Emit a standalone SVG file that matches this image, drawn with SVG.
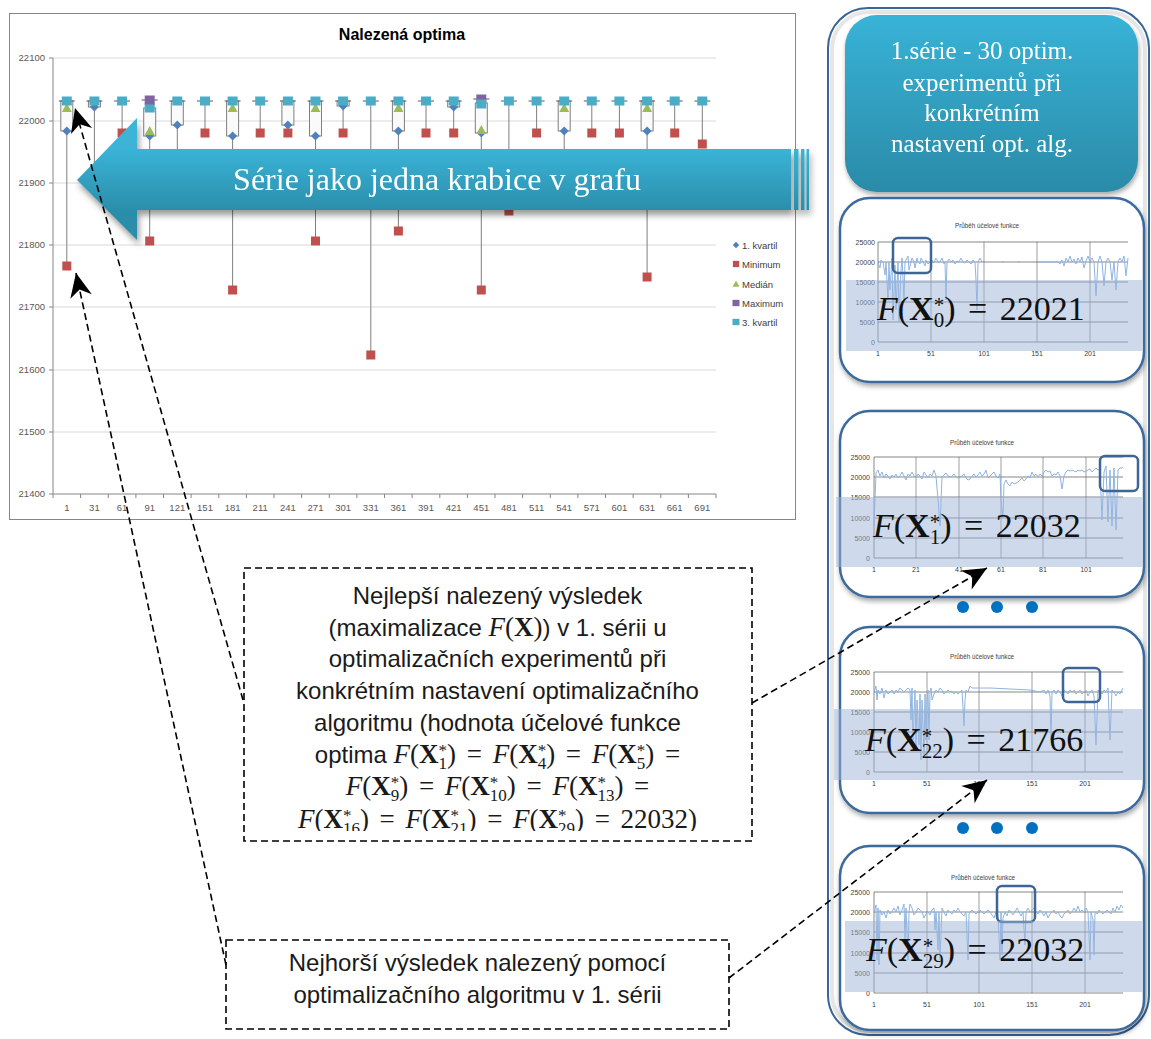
<svg xmlns="http://www.w3.org/2000/svg" width="1151" height="1039" viewBox="0 0 1151 1039">
<defs>
<style>
.ax{font-family:"Liberation Sans",Arial,sans-serif;font-size:9.5px;fill:#595959}
.lg{font-family:"Liberation Sans",Arial,sans-serif;font-size:9.5px;fill:#404040}
.grid{stroke:#D9D9D9;stroke-width:1}
.axl{stroke:#868686;stroke-width:1}
.wh{stroke:#7F7F7F;stroke-width:1}
.bx{fill:#FAFAFA;stroke:#7F7F7F;stroke-width:1}
.cap{stroke:#595959;stroke-width:1}
.mt{font-family:"Liberation Sans",Arial,sans-serif;font-size:6.3px;fill:#404040;text-anchor:middle}
.ml{font-family:"Liberation Sans",Arial,sans-serif;font-size:7px;fill:#404040}
.mg{stroke:#555;stroke-width:0.7}
.mv{stroke:#777;stroke-width:0.7}
.ln{fill:none;stroke:#8DB4E2;stroke-width:1}
.band{fill:#9DB5D9;opacity:0.5}
.hl{fill:none;stroke:#3D6595;stroke-width:2.5}
.fm{font-family:"Liberation Serif","Times New Roman",serif;font-size:34px;fill:#111}
.tx{font-family:"Liberation Sans",Arial,sans-serif;font-size:24px;fill:#1a1a1a;text-anchor:middle}
.m{font-family:"Liberation Serif","Times New Roman",serif;font-size:27px}
.mi{font-style:italic}
.mb{font-weight:bold}
.ms{font-size:17px}
.con{stroke:#000;stroke-width:1.6;stroke-dasharray:7 4;fill:none;marker-end:url(#ah)}
.dbox{fill:#fff;stroke:#000;stroke-width:1.6;stroke-dasharray:7 4}
.panel{fill:#fff;stroke:#3C6A9C;stroke-width:2.5}
.dot{fill:#0070C0}
.wt{font-family:"Liberation Serif","Times New Roman",serif;fill:#fff;text-anchor:middle}
</style>
<linearGradient id="gArrow" gradientUnits="userSpaceOnUse" x1="0" y1="149" x2="0" y2="210"><stop offset="0" stop-color="#3AB4D7"/><stop offset="1" stop-color="#2B8EAB"/></linearGradient>
<linearGradient id="gTop" gradientUnits="userSpaceOnUse" x1="0" y1="15" x2="0" y2="192"><stop offset="0" stop-color="#38B3D7"/><stop offset="1" stop-color="#2A8BA8"/></linearGradient>
<filter id="sh" x="-10%" y="-10%" width="125%" height="135%"><feDropShadow dx="1" dy="3" stdDeviation="2.5" flood-color="#000" flood-opacity="0.35"/></filter>
<filter id="sh2" x="-10%" y="-20%" width="125%" height="160%"><feDropShadow dx="2" dy="5" stdDeviation="3" flood-color="#000" flood-opacity="0.4"/></filter>
<marker id="ah" viewBox="-26 -13 28 26" markerWidth="28" markerHeight="26" refX="0" refY="0" orient="auto" markerUnits="userSpaceOnUse"><path d="M0,0 L-24,-11 L-17,0 L-24,11 Z" fill="#000"/></marker>
<rect id="q3" x="-5" y="-4.5" width="10" height="9" fill="#4BACC6"/>
<rect id="mn" x="-4.5" y="-4.5" width="9" height="9" fill="#C0504D"/>
<path id="q1" d="M0,-4.5 L4.5,0 L0,4.5 L-4.5,0Z" fill="#4F81BD"/>
<path id="md" d="M0,-5 L5,4 L-5,4Z" fill="#9BBB59"/>
<rect id="mx" x="-5" y="-4.5" width="10" height="9" fill="#8064A2"/>
<clipPath id="clipB1"><rect x="244" y="568" width="508" height="263"/></clipPath>
</defs>

<rect x="0" y="0" width="1151" height="1039" fill="#fff"/>

<g id="chart-nalezena-optima">
<rect x="9.5" y="13.5" width="786" height="506" fill="#fff" stroke="#868686"/>
<text x="402" y="40" font-family="Liberation Sans, Arial, sans-serif" font-size="16" font-weight="bold" text-anchor="middle" fill="#000">Nalezená optima</text>
<g>
<line class="grid" x1="53" y1="58" x2="716" y2="58"/>
<line class="grid" x1="53" y1="121" x2="716" y2="121"/>
<line class="grid" x1="53" y1="183" x2="716" y2="183"/>
<line class="grid" x1="53" y1="245" x2="716" y2="245"/>
<line class="grid" x1="53" y1="307" x2="716" y2="307"/>
<line class="grid" x1="53" y1="370" x2="716" y2="370"/>
<line class="grid" x1="53" y1="432" x2="716" y2="432"/>
<line class="axl" x1="53" y1="58" x2="53" y2="494"/>
<line class="axl" x1="53" y1="494" x2="716" y2="494"/>
<path class="axl" d="M49,58H53M49,121H53M49,183H53M49,245H53M49,307H53M49,370H53M49,432H53M49,494H53"/>
<path class="axl" d="M53,494V498M80.6,494V498M108.3,494V498M135.9,494V498M163.5,494V498M191.1,494V498M218.8,494V498M246.4,494V498M274,494V498M301.6,494V498M329.3,494V498M356.9,494V498M384.5,494V498M412.1,494V498M439.8,494V498M467.4,494V498M495,494V498M522.6,494V498M550.3,494V498M577.9,494V498M605.5,494V498M633.1,494V498M660.8,494V498M688.4,494V498M716,494V498"/>
</g>
<g text-anchor="end">
<text class="ax" x="45" y="61">22100</text>
<text class="ax" x="45" y="124">22000</text>
<text class="ax" x="45" y="186">21900</text>
<text class="ax" x="45" y="248">21800</text>
<text class="ax" x="45" y="310">21700</text>
<text class="ax" x="45" y="373">21600</text>
<text class="ax" x="45" y="435">21500</text>
<text class="ax" x="45" y="497">21400</text>
</g>
<g text-anchor="middle">
<text class="ax" x="66.8" y="511">1</text>
<text class="ax" x="94.4" y="511">31</text>
<text class="ax" x="122.1" y="511">61</text>
<text class="ax" x="149.7" y="511">91</text>
<text class="ax" x="177.3" y="511">121</text>
<text class="ax" x="205" y="511">151</text>
<text class="ax" x="232.6" y="511">181</text>
<text class="ax" x="260.2" y="511">211</text>
<text class="ax" x="287.9" y="511">241</text>
<text class="ax" x="315.5" y="511">271</text>
<text class="ax" x="343.1" y="511">301</text>
<text class="ax" x="370.8" y="511">331</text>
<text class="ax" x="398.4" y="511">361</text>
<text class="ax" x="426" y="511">391</text>
<text class="ax" x="453.7" y="511">421</text>
<text class="ax" x="481.3" y="511">451</text>
<text class="ax" x="508.9" y="511">481</text>
<text class="ax" x="536.6" y="511">511</text>
<text class="ax" x="564.2" y="511">541</text>
<text class="ax" x="591.8" y="511">571</text>
<text class="ax" x="619.4" y="511">601</text>
<text class="ax" x="647.1" y="511">631</text>
<text class="ax" x="674.7" y="511">661</text>
<text class="ax" x="702.3" y="511">691</text>
</g>
<g id="boxplot">
<line class="wh" x1="66.8" y1="101" x2="66.8" y2="266"/><rect class="bx" x="60.8" y="101" width="12" height="30"/><line class="cap" x1="58.8" y1="101" x2="74.8" y2="101"/><use href="#mn" x="66.8" y="266"/><use href="#q1" x="66.8" y="131"/><use href="#md" x="66.8" y="108"/><use href="#q3" x="66.8" y="101"/>
<line class="wh" x1="94.4" y1="101" x2="94.4" y2="185"/><rect class="bx" x="88.4" y="101" width="12" height="6"/><line class="cap" x1="86.4" y1="101" x2="102.4" y2="101"/><use href="#mn" x="94.4" y="185"/><use href="#q1" x="94.4" y="107"/><use href="#q3" x="94.4" y="101"/>
<line class="wh" x1="122.1" y1="101" x2="122.1" y2="133"/><line class="cap" x1="114.1" y1="101" x2="130.1" y2="101"/><use href="#mn" x="122.1" y="133"/><use href="#q3" x="122.1" y="101"/>
<line class="wh" x1="149.7" y1="100" x2="149.7" y2="241"/><rect class="bx" x="143.7" y="108" width="12" height="28"/><line class="cap" x1="141.7" y1="100" x2="157.7" y2="100"/><use href="#mn" x="149.7" y="241"/><use href="#q1" x="149.7" y="136"/><use href="#md" x="149.7" y="131"/><use href="#q3" x="149.7" y="108"/><use href="#mx" x="149.7" y="100"/>
<line class="wh" x1="177.3" y1="101" x2="177.3" y2="190"/><rect class="bx" x="171.3" y="101" width="12" height="24"/><line class="cap" x1="169.3" y1="101" x2="185.3" y2="101"/><use href="#mn" x="177.3" y="190"/><use href="#q1" x="177.3" y="125"/><use href="#q3" x="177.3" y="101"/>
<line class="wh" x1="205" y1="101" x2="205" y2="133"/><line class="cap" x1="197" y1="101" x2="213" y2="101"/><use href="#mn" x="205" y="133"/><use href="#q3" x="205" y="101"/>
<line class="wh" x1="232.6" y1="101" x2="232.6" y2="290"/><rect class="bx" x="226.6" y="101" width="12" height="35"/><line class="cap" x1="224.6" y1="101" x2="240.6" y2="101"/><use href="#mn" x="232.6" y="290"/><use href="#q1" x="232.6" y="136"/><use href="#md" x="232.6" y="108"/><use href="#q3" x="232.6" y="101"/>
<line class="wh" x1="260.2" y1="101" x2="260.2" y2="133"/><line class="cap" x1="252.2" y1="101" x2="268.2" y2="101"/><use href="#mn" x="260.2" y="133"/><use href="#q3" x="260.2" y="101"/>
<line class="wh" x1="287.9" y1="101" x2="287.9" y2="133"/><rect class="bx" x="281.9" y="101" width="12" height="24"/><line class="cap" x1="279.9" y1="101" x2="295.9" y2="101"/><use href="#mn" x="287.9" y="133"/><use href="#q1" x="287.9" y="125"/><use href="#q3" x="287.9" y="101"/>
<line class="wh" x1="315.5" y1="101" x2="315.5" y2="241"/><rect class="bx" x="309.5" y="101" width="12" height="35"/><line class="cap" x1="307.5" y1="101" x2="323.5" y2="101"/><use href="#mn" x="315.5" y="241"/><use href="#q1" x="315.5" y="136"/><use href="#md" x="315.5" y="108"/><use href="#q3" x="315.5" y="101"/>
<line class="wh" x1="343.1" y1="101" x2="343.1" y2="133"/><rect class="bx" x="337.1" y="101" width="12" height="5"/><line class="cap" x1="335.1" y1="101" x2="351.1" y2="101"/><use href="#mn" x="343.1" y="133"/><use href="#q1" x="343.1" y="106"/><use href="#q3" x="343.1" y="101"/>
<line class="wh" x1="370.8" y1="101" x2="370.8" y2="355"/><line class="cap" x1="362.8" y1="101" x2="378.8" y2="101"/><use href="#mn" x="370.8" y="355"/><use href="#q3" x="370.8" y="101"/>
<line class="wh" x1="398.4" y1="101" x2="398.4" y2="231"/><rect class="bx" x="392.4" y="101" width="12" height="30"/><line class="cap" x1="390.4" y1="101" x2="406.4" y2="101"/><use href="#mn" x="398.4" y="231"/><use href="#q1" x="398.4" y="131"/><use href="#md" x="398.4" y="108"/><use href="#q3" x="398.4" y="101"/>
<line class="wh" x1="426" y1="101" x2="426" y2="133"/><line class="cap" x1="418" y1="101" x2="434" y2="101"/><use href="#mn" x="426" y="133"/><use href="#q3" x="426" y="101"/>
<line class="wh" x1="453.7" y1="101" x2="453.7" y2="133"/><rect class="bx" x="447.7" y="101" width="12" height="6"/><line class="cap" x1="445.7" y1="101" x2="461.7" y2="101"/><use href="#mn" x="453.7" y="133"/><use href="#q1" x="453.7" y="107"/><use href="#q3" x="453.7" y="101"/>
<line class="wh" x1="481.3" y1="99" x2="481.3" y2="290"/><rect class="bx" x="475.3" y="103" width="12" height="30"/><line class="cap" x1="473.3" y1="99" x2="489.3" y2="99"/><use href="#mn" x="481.3" y="290"/><use href="#q1" x="481.3" y="133"/><use href="#md" x="481.3" y="130"/><use href="#mx" x="481.3" y="99"/><use href="#q3" x="481.3" y="104"/>
<line class="wh" x1="508.9" y1="101" x2="508.9" y2="211"/><line class="cap" x1="500.9" y1="101" x2="516.9" y2="101"/><use href="#mn" x="508.9" y="211"/><use href="#q3" x="508.9" y="101"/>
<line class="wh" x1="536.6" y1="101" x2="536.6" y2="133"/><line class="cap" x1="528.6" y1="101" x2="544.6" y2="101"/><use href="#mn" x="536.6" y="133"/><use href="#q3" x="536.6" y="101"/>
<line class="wh" x1="564.2" y1="101" x2="564.2" y2="190"/><rect class="bx" x="558.2" y="101" width="12" height="30"/><line class="cap" x1="556.2" y1="101" x2="572.2" y2="101"/><use href="#mn" x="564.2" y="190"/><use href="#q1" x="564.2" y="131"/><use href="#md" x="564.2" y="108"/><use href="#q3" x="564.2" y="101"/>
<line class="wh" x1="591.8" y1="101" x2="591.8" y2="133"/><line class="cap" x1="583.8" y1="101" x2="599.8" y2="101"/><use href="#mn" x="591.8" y="133"/><use href="#q3" x="591.8" y="101"/>
<line class="wh" x1="619.4" y1="101" x2="619.4" y2="133"/><line class="cap" x1="611.4" y1="101" x2="627.4" y2="101"/><use href="#mn" x="619.4" y="133"/><use href="#q3" x="619.4" y="101"/>
<line class="wh" x1="647.1" y1="101" x2="647.1" y2="277"/><rect class="bx" x="641.1" y="101" width="12" height="30"/><line class="cap" x1="639.1" y1="101" x2="655.1" y2="101"/><use href="#mn" x="647.1" y="277"/><use href="#q1" x="647.1" y="131"/><use href="#md" x="647.1" y="108"/><use href="#q3" x="647.1" y="101"/>
<line class="wh" x1="674.7" y1="101" x2="674.7" y2="133"/><line class="cap" x1="666.7" y1="101" x2="682.7" y2="101"/><use href="#mn" x="674.7" y="133"/><use href="#q3" x="674.7" y="101"/>
<line class="wh" x1="702.3" y1="101" x2="702.3" y2="144"/><line class="cap" x1="694.3" y1="101" x2="710.3" y2="101"/><use href="#mn" x="702.3" y="144"/><use href="#q3" x="702.3" y="101"/>
</g>
<g id="legend">
<use href="#q1" transform="translate(736,245) scale(0.7)"/><text class="lg" x="742" y="248.5">1. kvartil</text>
<use href="#mn" transform="translate(736,264) scale(0.7)"/><text class="lg" x="742" y="267.5">Minimum</text>
<use href="#md" transform="translate(736,284) scale(0.7)"/><text class="lg" x="742" y="287.5">Medián</text>
<use href="#mx" transform="translate(736,303) scale(0.7)"/><text class="lg" x="742" y="306.5">Maximum</text>
<use href="#q3" transform="translate(736,322) scale(0.7)"/><text class="lg" x="742" y="325.5">3. kvartil</text>
</g>
</g>

<g id="arrow-serie" filter="url(#sh2)">
<path d="M77,180 L137,118 L137,149 L791,149 L791,210 L137,210 L137,240 Z" fill="url(#gArrow)"/>
<rect x="794" y="149" width="4.5" height="61" fill="url(#gArrow)"/>
<rect x="801" y="149" width="3.5" height="61" fill="url(#gArrow)"/>
<rect x="806.5" y="149" width="2.5" height="61" fill="url(#gArrow)"/>
<text class="wt" x="437" y="190" font-size="32">Série jako jedna krabice v grafu</text>
</g>

<g id="panel-serie">
<rect x="828" y="8" width="321" height="1027" rx="40" fill="#fff" stroke="#3A6596" stroke-width="2"/>
<rect x="832" y="12" width="313" height="1019" rx="37" fill="none" stroke="#E6E6E6" stroke-width="4"/>
</g>

<g id="node-serie-header" filter="url(#sh)">
<rect x="845" y="15" width="293" height="177" rx="32" fill="url(#gTop)"/>
<text class="wt" x="982" y="59" font-size="25">1.série - 30 optim.</text>
<text class="wt" x="982" y="91" font-size="25">experimentů při</text>
<text class="wt" x="982" y="121" font-size="25">konkrétním</text>
<text class="wt" x="982" y="152" font-size="25">nastavení opt. alg.</text>
</g>

<g id="node-x0">
<rect class="panel" x="840" y="198" width="304" height="184" rx="30" filter="url(#sh)"/>
<text class="mt" x="987" y="228">Průběh účelové funkce</text>
<path class="mv" d="M931,242V342M984,242V342M1037,242V342M1090,242V342"/>
<path class="mg" d="M878,242H1128M878,262H1128M878,282H1128M878,302H1128M878,322H1128M878,342H1128M878,242V342"/>
<g text-anchor="end"><text class="ml" x="875" y="244.5">25000</text><text class="ml" x="875" y="264.5">20000</text><text class="ml" x="875" y="284.5">15000</text><text class="ml" x="875" y="304.5">10000</text><text class="ml" x="875" y="324.5">5000</text><text class="ml" x="875" y="344.5">0</text></g>
<g text-anchor="middle"><text class="ml" x="878" y="356">1</text><text class="ml" x="931" y="356">51</text><text class="ml" x="984" y="356">101</text><text class="ml" x="1037" y="356">151</text><text class="ml" x="1090" y="356">201</text></g>
<polyline class="ln" points="878,263 880,268 881,260 883,262 885,275 886,262 888,300 889,262 890,290 892,258 893,320 895,265 896,310 898,262 899,322 901,270 902,258 904,300 905,262 906,260 908,256 909,270 911,262 912,258 914,262 915,268 917,258 918,262 920,264 921,258 923,262 925,266 926,260 928,264 930,262 932,260 934,263 936,258 938,262 940,262 942,258 944,264 945,262 946,300 947,262 949,259 951,262 953,260 955,264 957,261 959,262 961,258 963,262 965,263 967,260 969,262 971,264 973,260 975,262 976,280 977,310 978,262 980,258 982,262"/>
<polyline class="ln" points="1002,262 1004,262"/><polyline class="ln" points="1018,262 1020,262"/>
<polyline class="ln" points="1037,262 1058,262 1060,264 1062,260 1064,266 1066,258 1068,262 1070,256 1072,262 1074,259 1076,264 1078,258 1080,262 1082,257 1084,268 1086,261 1088,256 1090,262 1092,258 1094,262 1096,296 1098,262 1100,256 1102,262 1104,286 1106,262 1108,258 1110,262 1112,280 1114,262 1116,290 1118,262 1120,258 1122,262 1124,256 1126,276 1128,258"/>
<rect class="hl" x="893" y="238" width="38" height="35" rx="5"/>
<rect class="band" x="846" y="280" width="296" height="71"/>
<text class="fm" x="877" y="320"><tspan class="mi">F</tspan>(<tspan class="mb">X</tspan><tspan font-size="21" dy="-8">*</tspan><tspan font-size="21" dx="-10.5" dy="15">0</tspan><tspan dy="-7">)</tspan> <tspan dx="4">=</tspan> <tspan dx="4">22021</tspan></text>
</g>

<g id="node-x1">
<rect class="panel" x="840" y="411" width="304" height="186" rx="30" filter="url(#sh)"/>
<text class="mt" x="982" y="445">Průběh účelové funkce</text>
<path class="mv" d="M916,457V558M959,457V558M1001,457V558M1043,457V558M1086,457V558"/>
<path class="mg" d="M874,457H1123M874,477H1123M874,497H1123M874,518H1123M874,538H1123M874,558H1123M874,457V558"/>
<g text-anchor="end"><text class="ml" x="870" y="459.5">25000</text><text class="ml" x="870" y="479.5">20000</text><text class="ml" x="870" y="499.5">15000</text><text class="ml" x="870" y="520.5">10000</text><text class="ml" x="870" y="540.5">5000</text><text class="ml" x="870" y="560.5">0</text></g>
<g text-anchor="middle"><text class="ml" x="874" y="572">1</text><text class="ml" x="916" y="572">21</text><text class="ml" x="959" y="572">41</text><text class="ml" x="1001" y="572">61</text><text class="ml" x="1043" y="572">81</text><text class="ml" x="1086" y="572">101</text></g>
<polyline class="ln" points="874,526 876,473 878,470 880,476 882,472 884,478 886,474 888,476 890,479 892,475 894,477 896,474 898,478 900,476 902,472 904,476 906,480 908,474 910,476 912,472 914,476 916,478 918,474 920,476 922,479 924,472 926,475 928,478 930,474 932,476 934,470 936,476 938,500 940,526 942,477 944,475 946,473 948,476 950,477 952,476 954,474 956,477 958,478 960,477 962,476 964,474 966,478 968,480 970,479 972,476 974,474 976,477 978,475 980,472 982,476 984,474 986,470 988,478 990,476 992,474 994,472 996,476 998,478 1000,474 1001,500 1003,518 1004,484 1006,480 1008,484 1010,486 1012,482 1014,484 1016,483 1018,482 1020,480 1022,478 1024,481 1026,479 1028,476 1030,478 1032,472 1034,476 1036,474 1038,477 1040,474 1042,476 1044,472 1046,470 1048,472 1050,471 1052,476 1054,474 1056,475 1058,472 1060,476 1062,489 1064,476 1066,472 1068,470 1070,471 1072,470 1074,471 1076,472 1078,470 1080,471 1082,470 1084,472 1086,471 1088,470 1090,469 1092,472 1094,470 1096,468 1098,470 1100,469 1102,520 1104,472 1106,466 1108,522 1110,470 1112,526 1114,468 1116,530 1118,470 1120,468 1122,468 1123,467"/>
<rect class="hl" x="1100" y="456" width="38" height="35" rx="5"/>
<rect class="band" x="836" y="497" width="306" height="70"/>
<text class="fm" x="873" y="537"><tspan class="mi">F</tspan>(<tspan class="mb">X</tspan><tspan font-size="21" dy="-8">*</tspan><tspan font-size="21" dx="-10.5" dy="15">1</tspan><tspan dy="-7">)</tspan> <tspan dx="4">=</tspan> <tspan dx="4">22032</tspan></text>
</g>

<g id="dots-1"><circle class="dot" cx="963" cy="607" r="6"/><circle class="dot" cx="997" cy="607" r="6"/><circle class="dot" cx="1032" cy="607" r="6"/></g>

<g id="node-x22">
<rect class="panel" x="840" y="627" width="304" height="186" rx="30" filter="url(#sh)"/>
<text class="mt" x="982" y="659">Průběh účelové funkce</text>
<path class="mv" d="M927,672V772M979,672V772M1032,672V772M1085,672V772"/>
<path class="mg" d="M874,672H1123M874,692H1123M874,712H1123M874,732H1123M874,752H1123M874,772H1123M874,672V772"/>
<g text-anchor="end"><text class="ml" x="870" y="674.5">25000</text><text class="ml" x="870" y="694.5">20000</text><text class="ml" x="870" y="714.5">15000</text><text class="ml" x="870" y="734.5">10000</text><text class="ml" x="870" y="754.5">5000</text><text class="ml" x="870" y="774.5">0</text></g>
<g text-anchor="middle"><text class="ml" x="874" y="786">1</text><text class="ml" x="927" y="786">51</text><text class="ml" x="979" y="786">101</text><text class="ml" x="1032" y="786">151</text><text class="ml" x="1085" y="786">201</text></g>
<polyline class="ln" points="874,692 876,686 877,700 878,690 880,694 882,688 884,698 886,690 888,694 890,692 892,690 894,694 896,690 898,692 900,688 902,690 904,692 906,690 908,688 910,690 911,720 912,688 913,740 915,690 916,750 917,700 919,745 920,694 921,760 922,700 924,755 925,694 926,740 927,700 928,690 929,740 930,692 931,688 932,700 934,694 936,690 938,692 940,688 942,690 944,694 946,692 948,690 950,692 952,691 954,694 956,692 958,694 960,692 962,690 964,726 965,700 966,690 968,692 970,686 972,688 974,688 990,688 1010,689 1030,690 1040,692 1044,690 1046,694 1048,690 1050,696 1051,740 1052,692 1054,690 1056,694 1058,690 1060,692 1062,696 1064,690 1066,692 1068,694 1070,690 1072,692 1074,690 1076,694 1078,692 1080,690 1082,694 1084,692 1086,690 1088,696 1090,692 1092,690 1094,696 1096,745 1098,690 1100,692 1102,694 1104,690 1106,692 1108,688 1110,740 1112,690 1114,692 1116,696 1118,692 1120,694 1122,690 1123,688"/>
<rect class="hl" x="1063" y="668" width="37" height="34" rx="5"/>
<rect class="band" x="834" y="709" width="308" height="71"/>
<text class="fm" x="865" y="751"><tspan class="mi">F</tspan>(<tspan class="mb">X</tspan><tspan font-size="21" dy="-8">*</tspan><tspan font-size="21" dx="-10.5" dy="15">22</tspan><tspan dy="-7">)</tspan> <tspan dx="4">=</tspan> <tspan dx="4">21766</tspan></text>
</g>

<g id="dots-2"><circle class="dot" cx="963" cy="828" r="6"/><circle class="dot" cx="997" cy="828" r="6"/><circle class="dot" cx="1032" cy="828" r="6"/></g>

<g id="node-x29">
<rect class="panel" x="840" y="846" width="304" height="184" rx="30" filter="url(#sh)"/>
<text class="mt" x="983" y="880">Průběh účelové funkce</text>
<path class="mv" d="M927,892V993M979,892V993M1032,892V993M1085,892V993"/>
<path class="mg" d="M874,892H1123M874,912H1123M874,932H1123M874,953H1123M874,973H1123M874,993H1123M874,892V993"/>
<g text-anchor="end"><text class="ml" x="870" y="894.5">25000</text><text class="ml" x="870" y="914.5">20000</text><text class="ml" x="870" y="934.5">15000</text><text class="ml" x="870" y="955.5">10000</text><text class="ml" x="870" y="975.5">5000</text><text class="ml" x="870" y="995.5">0</text></g>
<g text-anchor="middle"><text class="ml" x="874" y="1007">1</text><text class="ml" x="927" y="1007">51</text><text class="ml" x="979" y="1007">101</text><text class="ml" x="1032" y="1007">151</text><text class="ml" x="1085" y="1007">201</text></g>
<polyline class="ln" points="874,912 876,905 877,960 878,908 879,965 880,910 882,915 884,912 886,918 888,910 890,914 892,912 894,908 896,912 898,906 900,915 902,910 904,904 905,940 906,908 908,960 909,912 910,904 912,908 914,915 916,912 918,908 920,910 922,912 924,918 926,914 928,912 930,915 932,910 934,908 935,930 936,912 938,950 939,912 940,960 942,908 944,912 946,916 948,910 950,912 952,914 954,910 956,912 958,908 960,912 962,914 964,916 966,912 968,960 969,914 970,912 972,910 974,912 976,914 978,912 980,910 982,912 984,914 986,912 988,910 990,912 992,915 994,918 996,912 998,914 1000,960 1001,912 1002,955 1003,918 1005,912 1007,916 1009,910 1011,912 1013,915 1015,912 1017,908 1019,912 1021,916 1023,912 1025,945 1026,912 1028,908 1030,912 1032,910 1034,908 1036,912 1038,914 1040,910 1042,912 1044,916 1046,912 1048,918 1050,914 1052,912 1054,910 1056,914 1058,912 1060,916 1062,918 1064,914 1066,912 1068,910 1070,914 1072,912 1074,908 1076,912 1078,906 1080,912 1082,910 1084,912 1086,908 1088,912 1090,960 1091,912 1093,920 1094,955 1095,912 1097,914 1099,910 1101,912 1103,914 1105,912 1107,910 1109,912 1111,914 1113,908 1115,912 1117,906 1119,910 1121,905 1123,908"/>
<rect class="hl" x="997" y="886" width="38" height="36" rx="5"/>
<rect class="band" x="845" y="921" width="297" height="71"/>
<text class="fm" x="866" y="961"><tspan class="mi">F</tspan>(<tspan class="mb">X</tspan><tspan font-size="21" dy="-8">*</tspan><tspan font-size="21" dx="-10.5" dy="15">29</tspan><tspan dy="-7">)</tspan> <tspan dx="4">=</tspan> <tspan dx="4">22032</tspan></text>
</g>

<g id="note-best">
<rect class="dbox" x="244" y="568" width="508" height="273"/>
<g clip-path="url(#clipB1)">
<text class="tx" x="497.5" y="604">Nejlepší nalezený výsledek</text>
<text class="tx" x="497.5" y="636">(maximalizace <tspan class="m"><tspan class="mi">F</tspan>(<tspan class="mb">X</tspan>)</tspan>) v 1. sérii u</text>
<text class="tx" x="497.5" y="667">optimalizačních experimentů při</text>
<text class="tx" x="497.5" y="699">konkrétním nastavení optimalizačního</text>
<text class="tx" x="497.5" y="731">algoritmu (hodnota účelové funkce</text>
<text class="tx" x="497.5" y="763">optima <tspan class="m"><tspan class="mi">F</tspan>(<tspan class="mb">X</tspan><tspan class="ms" dy="-7">*</tspan><tspan class="ms" dx="-8.5" dy="13">1</tspan><tspan dy="-6">)</tspan></tspan> <tspan class="m" dx="4">=</tspan> <tspan class="m" dx="4"><tspan class="mi">F</tspan>(<tspan class="mb">X</tspan><tspan class="ms" dy="-7">*</tspan><tspan class="ms" dx="-8.5" dy="13">4</tspan><tspan dy="-6">)</tspan></tspan> <tspan class="m" dx="4">=</tspan> <tspan class="m" dx="4"><tspan class="mi">F</tspan>(<tspan class="mb">X</tspan><tspan class="ms" dy="-7">*</tspan><tspan class="ms" dx="-8.5" dy="13">5</tspan><tspan dy="-6">)</tspan></tspan> <tspan class="m" dx="4">=</tspan></text>
<text class="tx" x="497.5" y="795"><tspan class="m"><tspan class="mi">F</tspan>(<tspan class="mb">X</tspan><tspan class="ms" dy="-7">*</tspan><tspan class="ms" dx="-8.5" dy="13">9</tspan><tspan dy="-6">)</tspan></tspan> <tspan class="m" dx="4">=</tspan> <tspan class="m" dx="4"><tspan class="mi">F</tspan>(<tspan class="mb">X</tspan><tspan class="ms" dy="-7">*</tspan><tspan class="ms" dx="-8.5" dy="13">10</tspan><tspan dy="-6">)</tspan></tspan> <tspan class="m" dx="4">=</tspan> <tspan class="m" dx="4"><tspan class="mi">F</tspan>(<tspan class="mb">X</tspan><tspan class="ms" dy="-7">*</tspan><tspan class="ms" dx="-8.5" dy="13">13</tspan><tspan dy="-6">)</tspan></tspan> <tspan class="m" dx="4">=</tspan></text>
<text class="tx" x="497.5" y="828"><tspan class="m"><tspan class="mi">F</tspan>(<tspan class="mb">X</tspan><tspan class="ms" dy="-7">*</tspan><tspan class="ms" dx="-8.5" dy="13">16</tspan><tspan dy="-6">)</tspan></tspan> <tspan class="m" dx="4">=</tspan> <tspan class="m" dx="4"><tspan class="mi">F</tspan>(<tspan class="mb">X</tspan><tspan class="ms" dy="-7">*</tspan><tspan class="ms" dx="-8.5" dy="13">21</tspan><tspan dy="-6">)</tspan></tspan> <tspan class="m" dx="4">=</tspan> <tspan class="m" dx="4"><tspan class="mi">F</tspan>(<tspan class="mb">X</tspan><tspan class="ms" dy="-7">*</tspan><tspan class="ms" dx="-8.5" dy="13">29</tspan><tspan dy="-6">)</tspan></tspan> <tspan class="m" dx="4">=</tspan> <tspan class="m" dx="4">22032)</tspan></text>
</g>
</g>

<g id="note-worst">
<rect class="dbox" x="226" y="940" width="503" height="89"/>
<text class="tx" x="477.5" y="971">Nejhorší výsledek nalezený pomocí</text>
<text class="tx" x="477.5" y="1003">optimalizačního algoritmu v 1. sérii</text>
</g>

<g id="connectors">
<line class="con" x1="243" y1="700" x2="75" y2="108"/>
<line class="con" x1="226" y1="965" x2="76" y2="273"/>
<line class="con" x1="752" y1="703" x2="987" y2="568"/>
<line class="con" x1="729" y1="978" x2="987" y2="780"/>
</g>
</svg>
